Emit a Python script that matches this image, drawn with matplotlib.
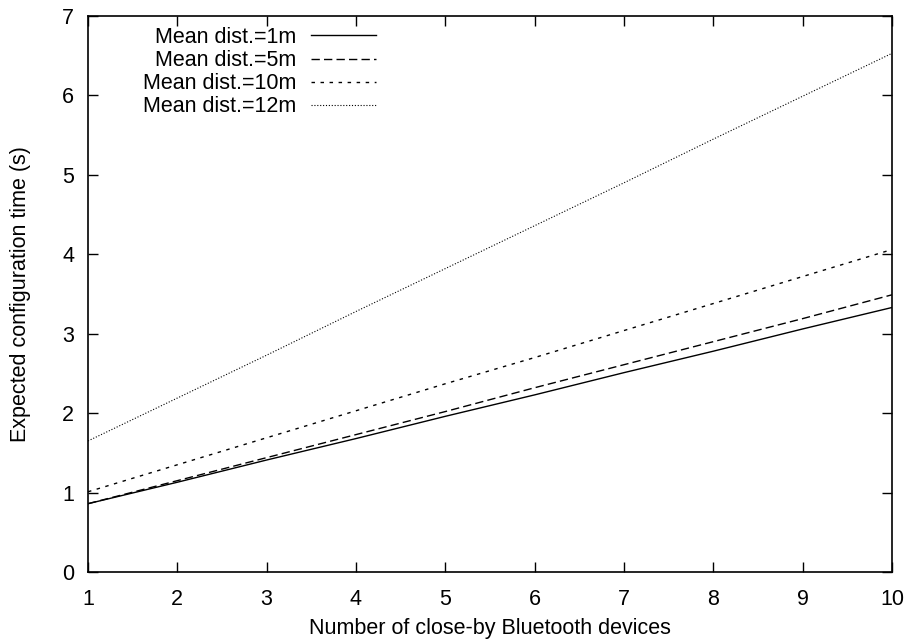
import numpy as np
import matplotlib
matplotlib.use('Agg')
import matplotlib.pyplot as plt

plt.rcParams['font.family'] = ['Liberation Sans', 'DejaVu Sans']

## number of close-by devices and expected configuration time for each mean distance
devices = [1, 2, 3, 4, 5, 6, 7, 8, 9, 10]
t_1m = [0.86, 1.13, 1.41, 1.68, 1.96, 2.23, 2.51, 2.78, 3.06, 3.33]
t_5m = [0.86, 1.15, 1.44, 1.73, 2.02, 2.32, 2.61, 2.90, 3.19, 3.49]
t_10m = [1.01, 1.35, 1.69, 2.03, 2.37, 2.70, 3.04, 3.38, 3.72, 4.06]
t_12m = [1.65, 2.19, 2.73, 3.28, 3.82, 4.36, 4.90, 5.45, 5.99, 6.53]
labels = ['Mean dist.=1m', 'Mean dist.=5m', 'Mean dist.=10m', 'Mean dist.=12m']

fs = 15.5
fig = plt.figure(figsize=(9.09, 6.44), dpi=100)
ax = fig.add_axes([88/909, 1 - 572/644, 804/909, 556/644])

l1, = ax.plot(devices, t_1m, color='black', lw=1.0, ls='-')
l2, = ax.plot(devices, t_5m, color='black', lw=1.0, ls=(0, (6, 3)))
l3, = ax.plot(devices, t_10m, color='black', lw=1.0, ls=(0, (2.5, 4)))
l4, = ax.plot(devices, t_12m, color='black', lw=0.8, ls=(0, (1, 1.6)))

ax.set_xlim(1, 10)
ax.set_ylim(0, 7)
ax.set_xticks(range(1, 11))
ax.set_yticks(range(0, 8))
ax.tick_params(direction='in', length=7, width=1, top=True, right=True,
               labelsize=fs, color='black')
ax.tick_params(axis='x', pad=12)
ax.tick_params(axis='y', pad=10)
for s in ax.spines.values():
    s.set_linewidth(1.2)

ax.set_xlabel('Number of close-by Bluetooth devices', fontsize=fs, labelpad=6)
ax.set_ylabel('Expected configuration time (s)', fontsize=fs, labelpad=22)

leg = ax.legend([l1, l2, l3, l4], labels, loc='upper right',
                bbox_to_anchor=((376 - 88) / 804, (572 - 27) / 556),
                frameon=False, fontsize=fs,
                markerfirst=False, handlelength=3.0, handletextpad=0.7,
                labelspacing=0.1, borderaxespad=0, borderpad=0)
for t in leg.get_texts():
    t.set_ha('right')
leg._legend_box.align = 'right'

fig.savefig('out.png', dpi=100)
